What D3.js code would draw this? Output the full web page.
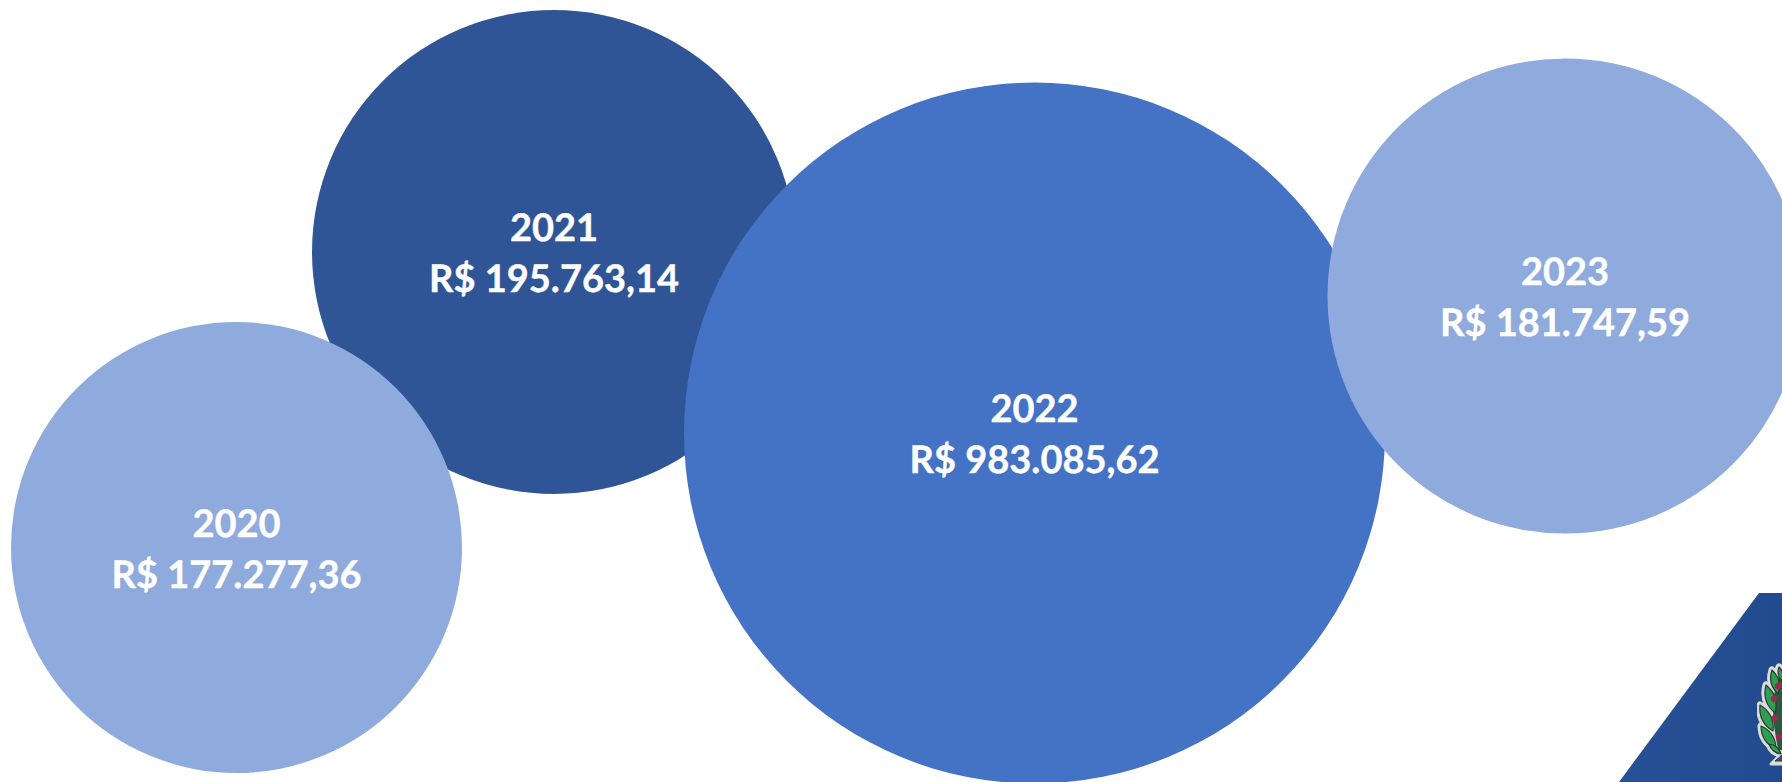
<!DOCTYPE html>
<html>
<head>
<meta charset="utf-8">
<script src="https://cdnjs.cloudflare.com/ajax/libs/d3/7.8.5/d3.min.js"></script>
<style>
html, body { margin: 0; padding: 0; background: #fff; overflow: hidden; }
svg { display: block; }
text { text-rendering: geometricPrecision; }
</style>
</head>
<body>
<div id="chart-container"></div>
<script>
var years = ['2020', '2021', '2022', '2023'];
var amounts = ['R$ 177.277,36', 'R$ 195.763,14', 'R$ 983.085,62', 'R$ 181.747,59'];
// bubble placement and size (x, y, r in the same units)
var bubble_x = [236.5, 554, 1034.5, 1565];
var bubble_y = [547.5, 252, 433, 296];
var bubble_r = [225.5, 242, 350.5, 237.5];
var colors = ['#8faadc', '#2f5597', '#4472c4', '#8faadc'];
// painting order, as in the picture
var draw_order = [1, 0, 2, 3];

// crest in the corner banner: leaf tip x, tip y, base x, base y
var leaves = [
	[1761, 726, 1776, 749],
	[1760, 705, 1773, 731],
	[1766, 685, 1775, 713],
	[1772, 670, 1778, 694],
	[1779, 667, 1782, 681],
	[1769, 744, 1781, 754]
];
var berries_x = [1778, 1774, 1775, 1779];
var berries_y = [686, 699, 718, 737];

var svg_width = 1782;
var svg_height = 782;

var x = d3.scaleLinear().domain([0, 1782]).range([0, svg_width]);
var y = d3.scaleLinear().domain([0, 782]).range([0, svg_height]);
var r = d3.scaleLinear().domain([0, 350]).range([0, 350]);

var svg = d3.select('#chart-container')
	.append('svg')
	.attr('width', svg_width)
	.attr('height', svg_height);

var defs = svg.append('defs');
var banner_grad = defs.append('linearGradient').attr('id', 'banner-grad');
banner_grad.append('stop').attr('offset', '0%').attr('stop-color', '#285096');
banner_grad.append('stop').attr('offset', '100%').attr('stop-color', '#224a8f');
defs.append('filter').attr('id', 'soft')
	.append('feGaussianBlur').attr('stdDeviation', 0.5);

var bubbles = svg.selectAll('.bubble')
	.data(draw_order)
	.enter()
	.append('g')
	.attr('class', 'bubble')
	.attr('transform', function(d) { return 'translate(' + x(bubble_x[d]) + ',' + y(bubble_y[d]) + ')'; });

bubbles.append('circle')
	.attr('r', function(d) { return r(bubble_r[d]); })
	.attr('fill', function(d) { return colors[d]; });

bubbles.append('text')
	.attr('text-anchor', 'middle')
	.attr('y', -11)
	.attr('fill', '#fff')
	.attr('stroke', '#fff')
	.attr('stroke-width', 0.4)
	.attr('font-family', 'Lato')
	.attr('font-weight', 700)
	.attr('font-size', '38px')
	.text(function(d) { return years[d]; });

bubbles.append('text')
	.attr('text-anchor', 'middle')
	.attr('y', 40)
	.attr('fill', '#fff')
	.attr('stroke', '#fff')
	.attr('stroke-width', 0.4)
	.attr('font-family', 'Lato')
	.attr('font-weight', 700)
	.attr('font-size', '38px')
	.text(function(d) { return amounts[d]; });

// corner banner with the crest
svg.append('path')
	.attr('d', 'M1759,593 L1782,593 L1782,782 L1619,782 Z')
	.attr('fill', 'url(#banner-grad)');

function leaf_path(d) {
	var mx = (d[0] + d[2]) / 2, my = (d[1] + d[3]) / 2;
	var nx = (d[3] - d[1]) * 0.32, ny = (d[0] - d[2]) * 0.32;
	return 'M' + d[0] + ',' + d[1]
		+ ' Q' + (mx - nx) + ',' + (my - ny) + ' ' + d[2] + ',' + d[3]
		+ ' Q' + (mx + nx) + ',' + (my + ny) + ' ' + d[0] + ',' + d[1] + 'Z';
}

var crest = svg.append('g').attr('filter', 'url(#soft)');

crest.selectAll('.leaf-halo')
	.data(leaves)
	.enter()
	.append('path')
	.attr('class', 'leaf-halo')
	.attr('d', leaf_path)
	.attr('fill', '#dcdcdc')
	.attr('stroke', '#dcdcdc')
	.attr('stroke-width', 7)
	.attr('stroke-linejoin', 'round');

// fill the gaps between the leaves and the stem
crest.append('path')
	.attr('d', 'M1778,666 L1770,690 L1766,720 L1772,752 L1782,752 L1782,666 Z')
	.attr('fill', '#dcdcdc');

// stem and foot under the leaves
crest.append('path')
	.attr('d', 'M1771,764 L1782,753 L1782,764 Z')
	.attr('fill', '#dcdcdc')
	.attr('stroke', '#dcdcdc')
	.attr('stroke-width', 3)
	.attr('stroke-linejoin', 'round');
crest.append('path')
	.attr('d', 'M1775,761 L1782,755 L1782,761 Z')
	.attr('fill', '#2f5597')
	.attr('stroke', '#333')
	.attr('stroke-width', 1);

crest.append('path')
	.attr('d', 'M1780,672 L1774,695 L1773,720 L1778,750 L1782,750 L1782,672 Z')
	.attr('fill', '#2b5a3f');

crest.selectAll('.leaf')
	.data(leaves)
	.enter()
	.append('path')
	.attr('class', 'leaf')
	.attr('d', leaf_path)
	.attr('fill', '#2f9e52')
	.attr('stroke', '#2b3a33')
	.attr('stroke-width', 1.2)
	.attr('stroke-linejoin', 'round');

crest.selectAll('.berry')
	.data(berries_x)
	.enter()
	.append('circle')
	.attr('class', 'berry')
	.attr('cx', function(d) { return d; })
	.attr('cy', function(d, i) { return berries_y[i]; })
	.attr('r', 3.2)
	.attr('fill', '#9c2a4e');
</script>
</body>
</html>
